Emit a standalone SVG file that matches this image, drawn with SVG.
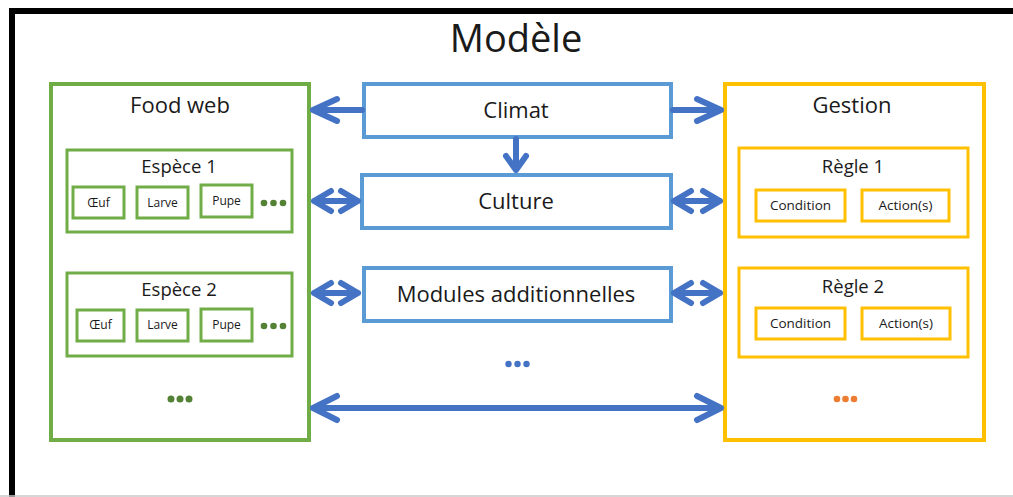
<svg xmlns="http://www.w3.org/2000/svg" width="1013" height="497" viewBox="0 0 1013 497">
<style>
text{font-family:"Open Sans","Liberation Sans",sans-serif;fill:#1a1a1a;text-anchor:middle}
.g{fill:none;stroke:#70AD47}
.y{fill:none;stroke:#FFC000}
.b{fill:none;stroke:#5B9BD5;stroke-width:4}
.arr{fill:none;stroke:#4472C4;stroke-width:6;stroke-linecap:round;stroke-linejoin:round}
.h1{font-size:22px}
.h2{font-size:18.5px}
.s{font-size:12px}
.c{font-size:13.5px}
</style>
<rect width="1013" height="497" fill="#fff"/>
<g id="frame">
<rect x="12" y="11" width="1010" height="500" fill="none" stroke="#000" stroke-width="6"/>
<line x1="0" y1="496" x2="1013" y2="496" stroke="#c8c8c8" stroke-width="1.5"/>
<text x="516" y="52" font-size="38">Modèle</text>
</g>
<g id="foodweb">
<rect class="g" x="51" y="84" width="258" height="356" stroke-width="4"/>
<text class="h1" x="180" y="113">Food web</text>
</g>
<g id="espece1">
<rect class="g" x="67" y="150" width="225" height="82" stroke-width="3"/>
<text class="h2" x="179" y="173">Espèce 1</text>
<rect class="g" x="73" y="187" width="51" height="31" stroke-width="3"/>
<text class="s" x="98.5" y="207">Œuf</text>
<rect class="g" x="137" y="187" width="51" height="31" stroke-width="3"/>
<text class="s" x="162.5" y="207">Larve</text>
<rect class="g" x="201" y="185" width="51" height="32" stroke-width="3"/>
<text class="s" x="226.5" y="205">Pupe</text>
<g fill="#548235"><circle cx="264" cy="203" r="3.3"/><circle cx="273.5" cy="203" r="3.3"/><circle cx="283" cy="203" r="3.3"/></g>
</g>
<g id="espece2">
<rect class="g" x="67" y="273" width="225" height="83" stroke-width="3"/>
<text class="h2" x="179" y="296">Espèce 2</text>
<rect class="g" x="77" y="310" width="47" height="31" stroke-width="3"/>
<text class="s" x="100.5" y="329">Œuf</text>
<rect class="g" x="137" y="310" width="51" height="31" stroke-width="3"/>
<text class="s" x="162.5" y="329">Larve</text>
<rect class="g" x="201" y="309" width="51" height="32" stroke-width="3"/>
<text class="s" x="226.5" y="329">Pupe</text>
<g fill="#548235"><circle cx="264" cy="326" r="3.3"/><circle cx="273.5" cy="326" r="3.3"/><circle cx="283" cy="326" r="3.3"/></g>
</g>
<g id="foodweb-more" fill="#548235"><circle cx="171" cy="399" r="3.5"/><circle cx="180" cy="399" r="3.5"/><circle cx="189" cy="399" r="3.5"/></g>
<g id="climat">
<rect class="b" x="364" y="84" width="307" height="53"/>
<text class="h1" x="516" y="118">Climat</text>
</g>
<g id="culture">
<rect class="b" x="362" y="175" width="309" height="53"/>
<text class="h1" x="516" y="209">Culture</text>
</g>
<g id="modules">
<rect class="b" x="364" y="268" width="307" height="53"/>
<text class="h1" x="516" y="302">Modules additionnelles</text>
</g>
<g id="modules-more" fill="#4472C4"><circle cx="508.5" cy="364" r="3.2"/><circle cx="517.5" cy="364" r="3.2"/><circle cx="526.5" cy="364" r="3.2"/></g>
<g id="gestion">
<rect class="y" x="725" y="84" width="259" height="356" stroke-width="4"/>
<text class="h1" x="852" y="113">Gestion</text>
</g>
<g id="regle1">
<rect class="y" x="739" y="148" width="229" height="89" stroke-width="3"/>
<text class="h2" x="853" y="173">Règle 1</text>
<rect class="y" x="756" y="190" width="89" height="31" stroke-width="3"/>
<text class="c" x="800.5" y="210">Condition</text>
<rect class="y" x="862" y="190" width="87" height="31" stroke-width="3"/>
<text class="c" x="905.5" y="210">Action(s)</text>
</g>
<g id="regle2">
<rect class="y" x="739" y="268" width="229" height="89" stroke-width="3"/>
<text class="h2" x="853" y="293">Règle 2</text>
<rect class="y" x="756" y="308" width="89" height="31" stroke-width="3"/>
<text class="c" x="800.5" y="328">Condition</text>
<rect class="y" x="862" y="308" width="88" height="31" stroke-width="3"/>
<text class="c" x="906" y="328">Action(s)</text>
</g>
<g id="gestion-more" fill="#ED7D31"><circle cx="837" cy="399" r="3.3"/><circle cx="845.5" cy="399" r="3.3"/><circle cx="854" cy="399" r="3.3"/></g>
<g id="connectors" class="arr">
<path d="M362 110H313M337 99L313 110L337 121"/>
<path d="M673 110H721M697 99L721 110L697 121"/>
<path d="M516 139V170M506 156L516 170L526 156"/>
<path d="M314 201H358M331 191L314 201L331 211M341 191L358 201L341 211"/>
<path d="M674 201H720M691 191L674 201L691 211M703 191L720 201L703 211"/>
<path d="M314 293H358M331 283L314 293L331 303M341 283L358 293L341 303"/>
<path d="M674 293H720M691 283L674 293L691 303M703 283L720 293L703 303"/>
<path d="M313 408H721M337 396L313 408L337 420M697 396L721 408L697 420"/>
</g>
</svg>
